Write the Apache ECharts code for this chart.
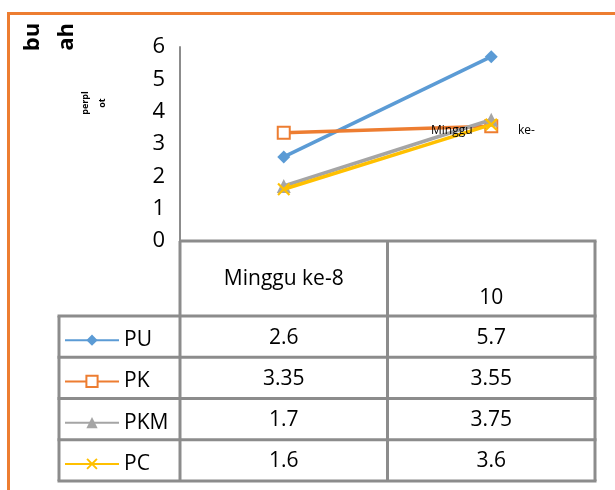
<!DOCTYPE html>
<html><head><meta charset="utf-8">
<script src="https://cdn.jsdelivr.net/npm/echarts@6/dist/echarts.min.js"></script>
<style>html,body{margin:0;padding:0;background:#fff}#c{width:615px;height:490px}</style>
</head><body><div id="c"></div>
<script>
// ---- data ----
const categories = ['Minggu ke-8', '10'];
const seriesNames = ['PU', 'PK', 'PKM', 'PC'];
const PU = [2.6, 5.7];
const PK = [3.35, 3.55];
const PKM = [1.7, 3.75];
const PC = [1.6, 3.6];
const yTicks = [0, 1, 2, 3, 4, 5, 6];
const yTitleMain = 'bu\nah';
const yTitleSub = 'perpl\not';
const xTitleParts = ['Minggu', 'ke-'];

// ---- styling / layout ----
const FONT = 'Open Sans';
const colors = ['#5B9BD5', '#ED7D31', '#A5A5A5', '#FFC000'];
const symbols = ['diamond', 'emptyRect', 'triangle',
  'path://M0,1.2L1.2,0L5,3.8L8.8,0L10,1.2L6.2,5L10,8.8L8.8,10L5,6.2L1.2,10L0,8.8L3.8,5Z'];
const symbolSizes = [13, 12, 14, 13];
const seriesData = [PU, PK, PKM, PC];
const GRID_L = 180, GRID_R = 595, GRID_T = 47, AXIS_Y = 241;
const TABLE_L = 59, HEAD_B = 316, ROW_H = 41.25;
const LINE_C = '#8C8C8C';
const TXT = 21;

const chart = echarts.init(document.getElementById('c'));
chart.setOption({
  animation: false,
  textStyle: { fontFamily: FONT },
  grid: { left: GRID_L, top: GRID_T, width: GRID_R - GRID_L, height: AXIS_Y - GRID_T },
  xAxis: {
    type: 'category', data: categories, boundaryGap: true,
    axisLine: { show: false }, axisTick: { show: false }, axisLabel: { show: false }
  },
  yAxis: {
    type: 'value', min: yTicks[0], max: yTicks[yTicks.length - 1], interval: 1,
    axisLine: { show: true, lineStyle: { color: LINE_C, width: 2 } },
    axisTick: { show: false }, splitLine: { show: false },
    axisLabel: { fontSize: 22, color: '#000', margin: 15, fontFamily: FONT }
  },
  legend: seriesNames.map((n, i) => ({
    left: 64, top: HEAD_B + ROW_H * i + ROW_H / 2 - 7, padding: 0,
    itemWidth: 54, itemHeight: 14,
    textStyle: { fontSize: TXT, color: '#000', fontFamily: FONT },
    data: [n]
  })),
  series: seriesNames.map((n, i) => ({
    name: n, type: 'line', data: seriesData[i],
    symbol: symbols[i], symbolSize: symbolSizes[i],
    lineStyle: { color: colors[i], width: 3.5 },
    itemStyle: { color: colors[i], borderColor: colors[i], borderWidth: i === 1 ? 1.5 : 0 },
    z: 2 + i
  }))
});

// ---- data table & titles (graphic) ----
const cx = categories.map((c, i) => chart.convertToPixel({ xAxisIndex: 0 }, i));
const midX = (cx[0] + cx[1]) / 2;
const g = [];
function line(x1, y1, x2, y2) {
  g.push({ type: 'line', shape: { x1, y1, x2, y2 }, style: { stroke: LINE_C, lineWidth: 3 }, z: 1 });
}
const rowYs = seriesNames.map((n, i) => HEAD_B + ROW_H * i);
const tableB = HEAD_B + ROW_H * seriesNames.length;
line(GRID_L, AXIS_Y, GRID_R + 1.5, AXIS_Y);
for (let i = 0; i <= seriesNames.length; i++) line(TABLE_L - 1.5, HEAD_B + ROW_H * i, GRID_R + 1.5, HEAD_B + ROW_H * i);
line(GRID_L, AXIS_Y, GRID_L, tableB);
line(midX, AXIS_Y, midX, tableB);
line(GRID_R, AXIS_Y, GRID_R, tableB);
line(TABLE_L, HEAD_B, TABLE_L, tableB);

const headerY = [279, 298];
categories.forEach((c, i) => {
  g.push({ type: 'text', x: cx[i], y: headerY[i], style: { text: c, font: `${TXT}px "${FONT}"`, fill: '#000', align: 'center', verticalAlign: 'middle' } });
});
seriesNames.forEach((n, r) => {
  seriesData[r].forEach((v, i) => {
    g.push({ type: 'text', x: cx[i], y: rowYs[r] + ROW_H / 2 + 1, style: { text: String(v), font: `${TXT}px "${FONT}"`, fill: '#000', align: 'center', verticalAlign: 'middle' } });
  });
});
// titles
g.push({ type: 'text', x: 50, y: 37, rotation: Math.PI / 2, style: { text: yTitleMain, font: `bold 22px "${FONT}"`, fill: '#000', align: 'center', verticalAlign: 'middle', lineHeight: 34 } });
g.push({ type: 'text', x: 94, y: 103, rotation: Math.PI / 2, style: { text: yTitleSub, font: `bold 9px "${FONT}"`, fill: '#000', align: 'center', verticalAlign: 'middle', lineHeight: 17 } });
g.push({ type: 'text', x: 431, y: 131, style: { text: xTitleParts[0], font: `12px "${FONT}"`, fill: '#000', align: 'left', verticalAlign: 'middle' }, z: 10 });
g.push({ type: 'text', x: 518, y: 131, style: { text: xTitleParts[1], font: `12px "${FONT}"`, fill: '#000', align: 'left', verticalAlign: 'middle' }, z: 10 });
// outer orange frame
g.push({ type: 'rect', shape: { x: 8.5, y: 13.5, width: 800, height: 800 }, style: { fill: 'none', stroke: '#ED7D31', lineWidth: 3 }, z: 0 });
chart.setOption({ graphic: g });
</script>
</body></html>
